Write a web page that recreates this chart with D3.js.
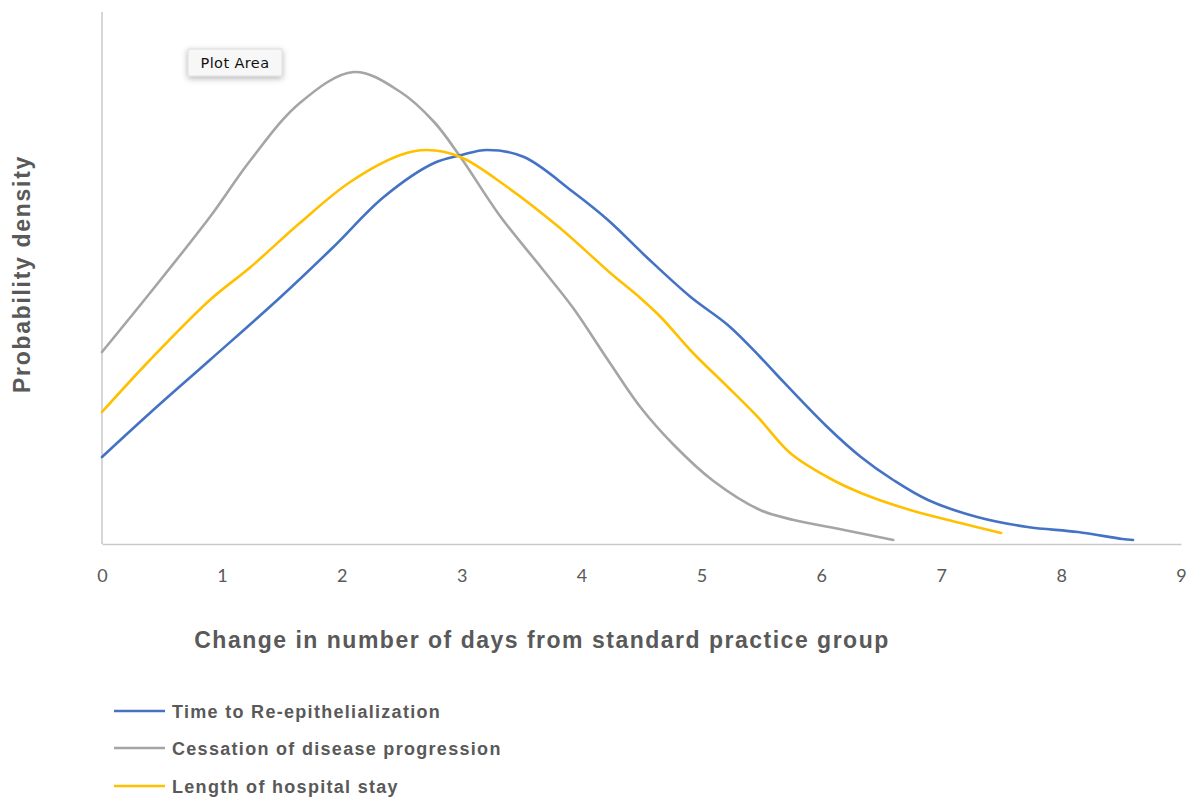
<!DOCTYPE html>
<html>
<head>
<meta charset="utf-8">
<script src="https://cdn.jsdelivr.net/npm/d3@7"></script>
<style>
  html, body { margin: 0; padding: 0; background: #fff; }
  svg { display: block; }
</style>
</head>
<body>
<svg id="chart" width="1196" height="800"></svg>
<script>
// ---- Data (y is relative probability density) ----
const xTicks = [0, 1, 2, 3, 4, 5, 6, 7, 8, 9];

const reepiX = [0, 0.4, 0.9, 1.49, 1.93, 2.35, 2.77, 3.0, 3.21, 3.52, 3.93, 4.22, 4.55, 4.91, 5.22, 5.49, 5.63, 6.05, 6.33, 6.6, 6.89, 7.3, 7.72, 8.14, 8.51, 8.6];
const reepiY = [0.087, 0.131, 0.184, 0.247, 0.297, 0.347, 0.381, 0.389, 0.394, 0.387, 0.352, 0.324, 0.286, 0.247, 0.219, 0.187, 0.169, 0.117, 0.087, 0.064, 0.044, 0.027, 0.017, 0.012, 0.005, 0.004];

const cessX = [0, 0.4, 0.9, 1.24, 1.65, 2.1, 2.49, 2.77, 2.99, 3.32, 3.66, 3.93, 4.22, 4.49, 4.77, 5.1, 5.49, 5.77, 6.19, 6.6];
const cessY = [0.192, 0.251, 0.327, 0.384, 0.441, 0.472, 0.452, 0.422, 0.387, 0.328, 0.277, 0.236, 0.184, 0.137, 0.099, 0.063, 0.034, 0.024, 0.014, 0.004];

const stayX = [0, 0.4, 0.9, 1.24, 1.65, 2.07, 2.49, 2.71, 2.99, 3.38, 3.82, 4.24, 4.49, 4.66, 4.93, 5.22, 5.47, 5.74, 6.05, 6.33, 6.74, 7.16, 7.5];
const stayY = [0.132, 0.184, 0.244, 0.277, 0.321, 0.362, 0.389, 0.394, 0.387, 0.357, 0.316, 0.271, 0.246, 0.227, 0.191, 0.157, 0.127, 0.091, 0.067, 0.051, 0.034, 0.021, 0.011];

const seriesNames = ["Time to Re-epithelialization", "Cessation of disease progression", "Length of hospital stay"];
const seriesColors = ["#4472C4", "#A5A5A5", "#FFC000"];

const xTitle = "Change in number of days from standard practice group";
const yTitle = "Probability density";

// ---- Build series ----
const series = [
  { name: seriesNames[0], color: seriesColors[0], pts: reepiX.map((v, i) => [v, reepiY[i]]) },
  { name: seriesNames[1], color: seriesColors[1], pts: cessX.map((v, i) => [v, cessY[i]]) },
  { name: seriesNames[2], color: seriesColors[2], pts: stayX.map((v, i) => [v, stayY[i]]) }
];

const svg = d3.select("#chart");
const plotLeft = 102, plotRight = 1181, plotTop = 12, plotBottom = 544;

const xScale = d3.scaleLinear().domain([0, 9]).range([plotLeft, plotRight]);
const yScale = d3.scaleLinear().domain([0, 0.532]).range([plotBottom, plotTop]);

const textColor = "#595959";
const axisColor = "#C9C9C9";

// Axes lines
svg.append("line").attr("x1", plotLeft).attr("x2", plotLeft).attr("y1", plotTop).attr("y2", plotBottom)
  .attr("stroke", axisColor).attr("stroke-width", 1.5);

const xAxis = d3.axisBottom(xScale).tickValues(xTicks).tickSize(0).tickPadding(25).tickFormat(d3.format("d"));
const gx = svg.append("g").attr("transform", `translate(0,${plotBottom})`).call(xAxis);
gx.select(".domain").attr("stroke", axisColor).attr("stroke-width", 1.5);
gx.selectAll("text").attr("fill", textColor).attr("font-family", "Lato, 'Open Sans', sans-serif").attr("font-size", 18);

// Lines
const line = d3.line().x(d => xScale(d[0])).y(d => yScale(d[1])).curve(d3.curveCatmullRom.alpha(0.5));
[series[1], series[0], series[2]].forEach(s => {
  svg.append("path").datum(s.pts)
    .attr("d", line)
    .attr("fill", "none")
    .attr("stroke", s.color)
    .attr("stroke-width", 2.6)
    .attr("stroke-linecap", "round");
});

// Axis titles
svg.append("text").attr("x", 542).attr("y", 648).attr("text-anchor", "middle")
  .attr("font-family", "'Liberation Sans', Arial, sans-serif").attr("font-weight", "bold")
  .attr("font-size", 23).attr("letter-spacing", 1.5).attr("fill", textColor).text(xTitle);

svg.append("text").attr("transform", "translate(30,274) rotate(-90)").attr("text-anchor", "middle")
  .attr("font-family", "'Liberation Sans', Arial, sans-serif").attr("font-weight", "bold")
  .attr("font-size", 23).attr("letter-spacing", 1.7).attr("fill", textColor).text(yTitle);

// Legend
const legY = [711, 748, 786];
series.forEach((s, i) => {
  const g = svg.append("g").attr("transform", `translate(114,${legY[i]})`);
  g.append("line").attr("x1", 0).attr("x2", 51).attr("y1", 0).attr("y2", 0)
    .attr("stroke", s.color).attr("stroke-width", 2.6);
  g.append("text").attr("x", 58).attr("y", 6.5)
    .attr("font-family", "'Liberation Sans', Arial, sans-serif").attr("font-weight", "bold")
    .attr("font-size", 18).attr("letter-spacing", 1.3).attr("fill", textColor).text(s.name);
});

// "Plot Area" tooltip
const defs = svg.append("defs");
const f = defs.append("filter").attr("id", "shadow").attr("x", "-30%").attr("y", "-50%").attr("width", "160%").attr("height", "220%");
f.append("feDropShadow").attr("dx", 0).attr("dy", 2).attr("stdDeviation", 3).attr("flood-color", "#000").attr("flood-opacity", 0.3);
const tip = svg.append("g").attr("transform", "translate(188,49)");
tip.append("rect").attr("width", 94).attr("height", 27).attr("fill", "#F7F7F7")
  .attr("stroke", "#D6D6D6").attr("stroke-width", 0.8).attr("filter", "url(#shadow)");
tip.append("text").attr("x", 47).attr("y", 19).attr("text-anchor", "middle")
  .attr("font-family", "'DejaVu Sans', sans-serif").attr("font-size", 14.5).attr("letter-spacing", 0.4).attr("fill", "#111").text("Plot Area");
</script>
</body>
</html>
